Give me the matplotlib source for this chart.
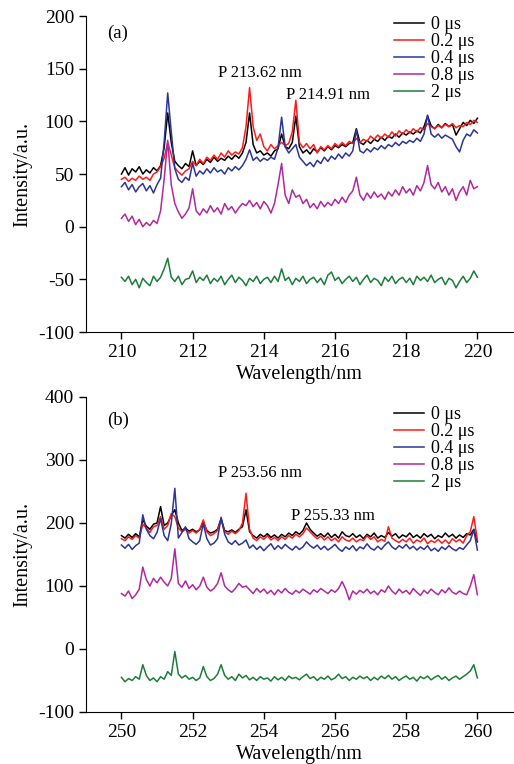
import numpy as np
import matplotlib
matplotlib.use("Agg")
import matplotlib.pyplot as plt

plt.rcParams['font.family'] = ['Liberation Serif', 'DejaVu Serif']
plt.rcParams['axes.unicode_minus'] = False

# wavelength grids (nm)
wl_a = np.round(np.arange(210.0, 220.01, 0.1), 2)
wl_b = np.round(np.arange(250.0, 260.01, 0.1), 2)

labels = ['0 \u03bcs', '0.2 \u03bcs', '0.4 \u03bcs', '0.8 \u03bcs', '2 \u03bcs']
colors = ['#000000', '#ff1a1a', '#2b3597', '#b0289f', '#1b7d3a']

# panel (a) spectra
a_0us = [50, 56, 49, 55, 52, 57, 50, 54, 51, 56, 53, 58, 75, 108, 80, 62, 58, 55, 60, 57,
         72, 58, 62, 59, 64, 61, 66, 62, 65, 63, 67, 64, 68, 65, 70, 80, 108, 78, 70, 72,
         68, 70, 67, 72, 74, 88, 76, 74, 80, 105, 76, 70, 73, 69, 74, 71, 75, 72, 76, 73,
         77, 75, 78, 76, 79, 80, 93, 80, 78, 82, 79, 83, 81, 85, 82, 86, 84, 88, 85, 89,
         87, 90, 88, 91, 89, 95, 105, 96, 93, 97, 94, 98, 95, 97, 87, 93, 99, 96, 101, 98,
         103]
a_02us = [45, 47, 43, 46, 44, 48, 45, 47, 44, 50, 52, 57, 65, 80, 68, 56, 52, 49, 53, 55,
          62, 58, 64, 60, 66, 63, 68, 64, 70, 66, 72, 68, 71, 69, 75, 95, 132, 95, 82, 88,
          76, 72, 78, 74, 77, 80, 77, 79, 90, 120, 80, 75, 79, 74, 78, 70, 76, 73, 77, 74,
          79, 76, 80, 77, 81, 79, 84, 80, 83, 81, 86, 83, 87, 84, 88, 85, 90, 86, 91, 88,
          92, 89, 93, 90, 94, 92, 98, 95, 93, 96, 94, 97, 95, 98, 94, 96, 95, 99, 97, 101,
          99]
a_04us = [38, 42, 35, 40, 33, 38, 41, 34, 39, 32, 40, 46, 80, 127, 90, 55, 45, 42, 47, 44,
          60, 48, 53, 50, 55, 51, 56, 52, 54, 50, 56, 53, 57, 54, 58, 64, 73, 63, 66, 62,
          65, 63, 66, 64, 75, 104, 76, 70, 74, 78, 66, 62, 58, 61, 57, 63, 60, 66, 62, 67,
          64, 69, 65, 70, 67, 72, 92, 72, 70, 74, 71, 75, 73, 77, 74, 78, 76, 80, 77, 81,
          79, 82, 80, 84, 81, 88, 106, 88, 85, 88, 84, 87, 85, 83, 76, 71, 82, 88, 86, 92,
          89]
a_08us = [8, 12, 5, 10, 2, 7, 0, 4, 1, 6, 3, 15, 45, 82, 40, 22, 14, 8, 12, 18,
          36, 15, 11, 17, 13, 20, 14, 18, 12, 22, 16, 19, 13, 18, 22, 20, 25, 19, 23, 17,
          24, 20, 13, 22, 40, 60, 30, 22, 35, 28, 30, 22, 26, 18, 22, 17, 24, 19, 23, 20,
          26, 22, 28, 23, 30, 34, 47, 30, 25, 32, 27, 33, 28, 31, 26, 33, 29, 35, 30, 38,
          32, 36, 30, 39, 34, 42, 58, 40, 36, 42, 33, 38, 30, 36, 25, 33, 38, 30, 44, 36,
          38]
a_2us = [-48, -52, -47, -55, -50, -58, -49, -53, -56, -47, -52, -48, -40, -30, -48, -52, -47, -55, -50, -49,
         -42, -53, -48, -51, -46, -54, -49, -52, -47, -55, -50, -46, -53, -48, -51, -56, -49, -52, -47, -54,
         -50, -48, -53, -47, -52, -40, -51, -48, -55, -49, -52, -47, -54, -50, -48, -53, -49, -55, -46, -43,
         -51, -48, -54, -50, -47, -52, -48, -55, -50, -46, -53, -49, -51, -56, -48, -52, -47, -54, -50, -48,
         -53, -49, -55, -47, -51, -48, -52, -46, -53, -50, -48, -55, -49, -51, -58, -52, -47, -53, -49, -42,
         -48]

# panel (b) spectra
b_0us = [180, 176, 182, 177, 183, 178, 205, 195, 190, 198, 200, 226, 196, 200, 212, 221, 200, 188, 192, 187,
         190, 186, 189, 202, 188, 184, 186, 190, 207, 188, 186, 189, 185, 190, 194, 221, 186, 180, 176, 182,
         178, 183, 177, 181, 176, 182, 178, 184, 180, 186, 182, 188, 200, 190, 184, 179, 183, 178, 184, 177,
         182, 176, 186, 180, 178, 183, 177, 181, 175, 182, 178, 184, 176, 180, 177, 185, 179, 183, 176, 181,
         178, 184, 177, 181, 176, 183, 178, 182, 175, 180, 177, 184, 178, 182, 176, 181, 177, 183, 181, 190,
         170]
b_02us = [175, 172, 178, 174, 180, 176, 198, 192, 185, 194, 196, 210, 190, 196, 215, 210, 192, 186, 190, 184,
          188, 184, 190, 205, 186, 180, 183, 188, 205, 186, 182, 187, 183, 188, 200, 247, 190, 176, 172, 178,
          174, 180, 173, 177, 172, 178, 174, 180, 176, 182, 178, 183, 192, 186, 180, 175, 179, 173, 178, 172,
          176, 170, 178, 173, 171, 176, 170, 174, 172, 180, 174, 178, 170, 174, 171, 194, 176, 172, 169, 174,
          170, 176, 168, 173, 170, 176, 167, 172, 169, 174, 168, 173, 167, 175, 170, 174, 168, 180, 186, 210,
          172]
b_04us = [165, 160, 166, 158, 164, 168, 213, 190, 180, 175, 185, 207, 180, 172, 199, 255, 176, 185, 194, 175,
          170, 166, 172, 199, 175, 165, 168, 175, 209, 182, 170, 166, 172, 165, 168, 173, 160, 165, 158, 163,
          156, 162, 167, 158, 164, 159, 166, 161, 157, 163, 158, 162, 170, 164, 160, 165, 158, 163, 157, 161,
          166, 159, 155, 162, 158, 164, 156, 162, 159, 167, 160, 157, 163, 158, 165, 170, 162, 158, 164, 160,
          166, 159, 163, 157, 162, 158, 164, 156, 160, 155, 162, 158, 164, 159, 156, 161, 158, 165, 172, 189,
          157]
b_08us = [88, 84, 92, 80, 86, 95, 130, 110, 100, 112, 105, 114, 106, 100, 112, 159, 104, 98, 108, 96,
          102, 94, 100, 114, 98, 92, 96, 104, 121, 100, 94, 90, 96, 104, 98, 100, 94, 88, 96, 90,
          95, 88, 93, 86, 94, 89, 96, 90, 87, 93, 89, 95, 91, 87, 94, 90, 96, 92, 88, 94,
          90, 96, 107, 95, 78, 92, 87, 93, 89, 95, 88, 92, 86, 94, 90, 100, 92, 87, 95, 89,
          93, 87, 96, 90, 85, 93, 88, 95, 90, 86, 94, 89, 97, 90, 87, 92, 88, 86, 100, 118,
          86]
b_2us = [-45, -52, -47, -50, -44, -48, -25, -42, -50, -46, -52, -44, -48, -36, -42, -4, -40, -46, -42, -48,
         -45, -50, -46, -28, -44, -50, -47, -40, -25, -42, -48, -44, -50, -40, -46, -42, -49, -45, -50, -44,
         -48, -46, -51, -44, -49, -45, -50, -43, -47, -45, -49, -44, -40, -47, -44, -50, -45, -48, -43, -49,
         -46, -40, -47, -44, -50, -45, -48, -43, -47, -44, -50, -45, -49, -43, -47, -42, -48, -44, -50, -46,
         -43, -48, -45, -51, -44, -47, -43, -49, -45, -42, -48, -44, -50, -46, -43, -48, -44, -40, -35, -25,
         -46]

series_a = [a_0us, a_02us, a_04us, a_08us, a_2us]
series_b = [b_0us, b_02us, b_04us, b_08us, b_2us]

fig = plt.figure(figsize=(5.14, 7.64), dpi=100)
ax_a = fig.add_axes([0.167, 0.5654, 0.831, 0.4136])
ax_b = fig.add_axes([0.167, 0.0681, 0.831, 0.4123])


def style_axis(ax, xlim, ylim, yticks, xticks):
    for s in ['top', 'right']:
        ax.spines[s].set_visible(False)
    ax.set_xlim(*xlim)
    ax.set_ylim(*ylim)
    ax.set_yticks(yticks)
    ax.set_xticks(xticks)
    ax.tick_params(direction='out', length=5, width=1, labelsize=14)
    ax.set_xlabel('Wavelength/nm', fontsize=14.5, labelpad=3)
    ax.set_ylabel('Intensity/a.u.', fontsize=14.5, labelpad=4)
    ax.set_facecolor('none')


for y, lab, c in zip(series_a, labels, colors):
    ax_a.plot(wl_a, y, color=c, lw=1.1, label=lab)
style_axis(ax_a, (209, 221), (-100, 200), np.arange(-100, 201, 50), np.arange(210, 221, 2))
ax_a.text(209.9, 184, '(a)', fontsize=13.5, ha='center', va='center')
ax_a.text(213.9, 146, 'P 213.62 nm', fontsize=12, ha='center', va='center')
ax_a.text(215.8, 125, 'P 214.91 nm', fontsize=12, ha='center', va='center')
ax_a.legend(loc='upper right', bbox_to_anchor=(0.94, 1.04), frameon=False, fontsize=13,
            handlelength=1.65, handletextpad=0.4, labelspacing=0.0, borderpad=0.2)

for y, lab, c in zip(series_b, labels, colors):
    ax_b.plot(wl_b, y, color=c, lw=1.1, label=lab)
style_axis(ax_b, (249, 261), (-100, 400), np.arange(-100, 401, 100), np.arange(250, 261, 2))
ax_b.text(249.9, 363, '(b)', fontsize=13.5, ha='center', va='center')
ax_b.text(253.9, 279, 'P 253.56 nm', fontsize=12, ha='center', va='center')
ax_b.text(255.93, 211, 'P 255.33 nm', fontsize=12, ha='center', va='center')
ax_b.legend(loc='upper right', bbox_to_anchor=(0.94, 1.01), frameon=False, fontsize=13,
            handlelength=1.65, handletextpad=0.4, labelspacing=0.0, borderpad=0.2)

fig.savefig('out.png', dpi=100, facecolor='white')
